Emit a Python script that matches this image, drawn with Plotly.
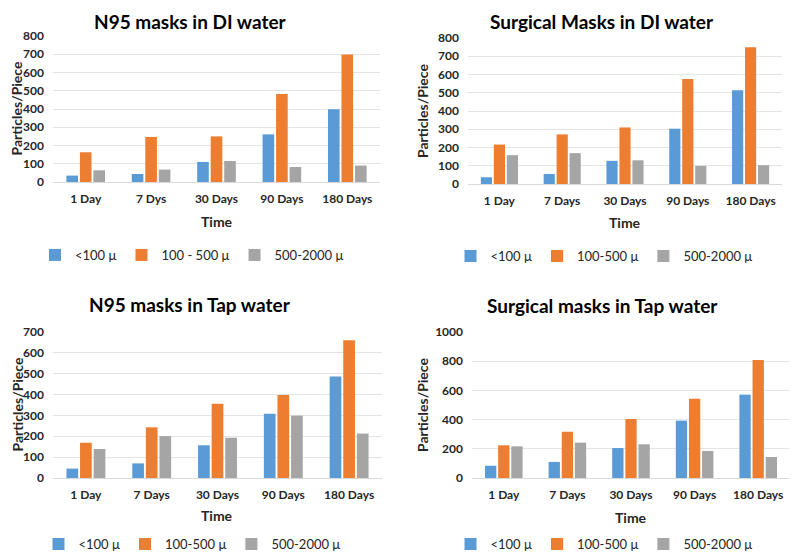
import plotly.graph_objects as go

# The page body has an 8px default margin, so the figure is drawn 8px in from
# the window edge; size and place everything so window coordinates match.
OFF = 8
W, H = 797 - OFF, 559 - OFF

# ---- data ----
cats_p1 = ["1 Day", "7 Dys", "30 Days", "90 Days", "180 Days"]
cats = ["1 Day", "7 Days", "30 Days", "90 Days", "180 Days"]

n95_di_lt100 = [35, 44, 110, 261, 398]
n95_di_100_500 = [163, 247, 250, 482, 698]
n95_di_500_2000 = [64, 68, 115, 82, 90]

surg_di_lt100 = [37, 55, 127, 303, 514]
surg_di_100_500 = [216, 272, 310, 576, 750]
surg_di_500_2000 = [158, 169, 130, 99, 103]

n95_tap_lt100 = [45, 70, 157, 308, 487]
n95_tap_100_500 = [169, 243, 356, 398, 660]
n95_tap_500_2000 = [139, 201, 193, 299, 213]

surg_tap_lt100 = [84, 110, 205, 393, 571]
surg_tap_100_500 = [224, 317, 404, 543, 808]
surg_tap_500_2000 = [217, 242, 231, 185, 144]

titles = ["N95 masks in DI water", "Surgical Masks in DI water",
          "N95 masks in Tap water", "Surgical masks in Tap water"]
legend_names_p1 = ["<100 μ", "100 - 500 μ", "500-2000 μ"]
legend_names = ["<100 μ", "100-500 μ", "500-2000 μ"]

colors = ["#5B9BD5", "#ED7D31", "#A5A5A5"]
FONT = "Lato"
TXT = "#262626"


def px(x):
    return (x - OFF) / W


def py(y):
    return 1 - (y - OFF) / H


panels = [
    dict(x0=53, x1=380, yt=36, yb=182, title_x=190, title_y=None, time_y=221, leg_y=255, leg_x=192,
         ytx=None, ymax=800, dtick=100, cats=cats_p1, names=legend_names_p1,
         data=[n95_di_lt100, n95_di_100_500, n95_di_500_2000]),
    dict(x0=468, x1=782, yt=38, yb=184, title_x=602, title_y=None, time_y=222, leg_y=256, leg_x=604,
         ytx=423, ymax=800, dtick=100, cats=cats, names=legend_names,
         data=[surg_di_lt100, surg_di_100_500, surg_di_500_2000]),
    dict(x0=53, x1=382, yt=332, yb=478, title_x=190, title_y=304, time_y=515, leg_y=None, leg_x=192,
         ytx=None, ymax=700, dtick=100, cats=cats, names=legend_names,
         data=[n95_tap_lt100, n95_tap_100_500, n95_tap_500_2000]),
    dict(x0=472, x1=790, yt=332, yb=478, title_x=602, title_y=305, time_y=517, leg_y=None, leg_x=604,
         ytx=422, ymax=1000, dtick=200, cats=cats, names=legend_names,
         data=[surg_tap_lt100, surg_tap_100_500, surg_tap_500_2000]),
]

fig = go.Figure()
annotations = []
layout = {}

for i, p in enumerate(panels):
    k = "" if i == 0 else str(i + 1)
    leg = "legend" + k
    for j in range(3):
        fig.add_trace(go.Bar(
            x=p["cats"], y=p["data"][j], name=p["names"][j],
            marker=dict(color=colors[j], line=dict(width=0)),
            xaxis="x" + k, yaxis="y" + k, legend=leg,
        ))
    layout["xaxis" + k] = dict(
        domain=[px(p["x0"]), px(p["x1"])], anchor="y" + k, automargin=False,
        showgrid=False, showline=True, linecolor="#D9D9D9", linewidth=1,
        ticks="", ticklabelstandoff=6,
        tickfont=dict(family=FONT, size=12, color=TXT, weight="bold"),
        fixedrange=True,
    )
    layout["yaxis" + k] = dict(
        domain=[py(p["yb"]), py(p["yt"])], anchor="x" + k, automargin=False,
        range=[0, p["ymax"]], dtick=p["dtick"],
        showgrid=True, gridcolor="#E4E4E4", gridwidth=1,
        zeroline=False, showline=False, ticks="", ticklabelstandoff=8,
        tickfont=dict(family=FONT, size=12, color=TXT, weight="bold"),
        fixedrange=True,
    )
    cx = (p["x0"] + p["x1"]) / 2
    if p["title_y"] is None:
        ty, tanchor = 1, "top"
    else:
        ty, tanchor = py(p["title_y"]), "middle"
    annotations.append(dict(
        text="<b>%s</b>" % titles[i], x=px(p["title_x"]), y=ty,
        xref="paper", yref="paper", showarrow=False, xanchor="center", yanchor=tanchor,
        font=dict(family=FONT, size=19, color="#000000"),
    ))
    annotations.append(dict(
        text="<b>Time</b>", x=px(cx), y=py(p["time_y"]),
        xref="paper", yref="paper", showarrow=False, xanchor="center", yanchor="middle",
        font=dict(family=FONT, size=14, color=TXT),
    ))
    if p["ytx"] is None:
        yx, yxa, yxs = 0, "left", -2
    else:
        yx, yxa, yxs = px(p["ytx"]), "center", 0
    annotations.append(dict(
        text="<b>Particles/Piece</b>", x=yx, y=py((p["yt"] + p["yb"]) / 2), xshift=yxs,
        xref="paper", yref="paper", showarrow=False, xanchor=yxa, yanchor="middle",
        textangle=-90, font=dict(family=FONT, size=14, color=TXT),
    ))
    if p["leg_y"] is None:
        ly, lanchor = 0, "bottom"
    else:
        ly, lanchor = py(p["leg_y"]), "middle"
    layout[leg] = dict(
        orientation="h", x=px(p["leg_x"]), y=ly, xanchor="center", yanchor=lanchor,
        font=dict(family=FONT, size=13, color=TXT), itemwidth=30,
        bgcolor="rgba(0,0,0,0)", tracegroupgap=0,
    )

fig.update_layout(
    width=W, height=H, margin=dict(l=0, r=0, t=0, b=0),
    paper_bgcolor="white", plot_bgcolor="white",
    barmode="group", bargap=0.38, bargroupgap=0.14,
    annotations=annotations, **layout,
)

fig.write_html("out.html")
